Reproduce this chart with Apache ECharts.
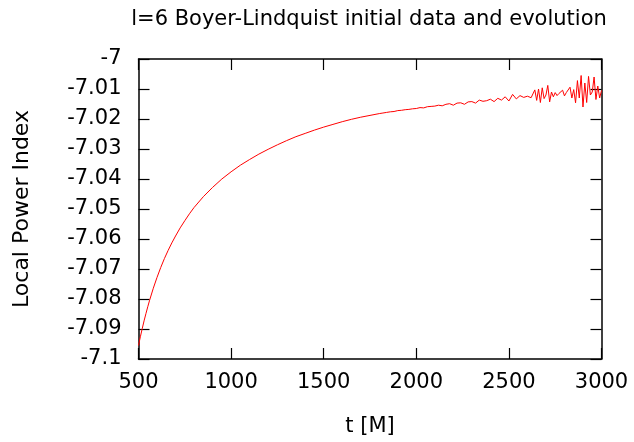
<!DOCTYPE html>
<html>
<head>
<meta charset="utf-8">
<script src="https://cdn.jsdelivr.net/npm/echarts@6/dist/echarts.min.js"></script>
<style>
html,body{margin:0;padding:0;background:#fff;}
#chart{width:634px;height:442px;}
</style>
</head>
<body>
<div id="chart"></div>
<script>
// Time values t [M]
const tSmooth = [500,510,520,530,540,550,560,580,600,620,640,660,680,700,725,750,775,800,850,900,950,1000,1050,1100,1150,1200,1250,1300,1350,1400,1450,1500,1550,1600,1650,1700,1750,1800];
const vSmooth = [-7.0955,-7.0926,-7.0899,-7.0873,-7.0849,-7.0826,-7.0804,-7.0764,-7.0728,-7.0695,-7.0665,-7.0638,-7.0613,-7.0590,-7.0563,-7.0539,-7.0516,-7.0495,-7.0459,-7.0428,-7.0400,-7.0376,-7.0354,-7.0335,-7.0317,-7.0301,-7.0286,-7.0272,-7.0259,-7.0248,-7.0237,-7.0227,-7.0218,-7.0209,-7.0201,-7.0194,-7.0188,-7.0182];

const tMid = [1820,1840,1860,1880,1900,1920,1940,1960,1980,2000,2020,2040,2060,2080,2100,2120,2140,2160,2180,2200,2220,2240,2260,2280,2300,2320,2340,2360,2380,2400,2420,2440,2460,2480,2500,2520,2540,2560,2580,2600];
const vMid = [-7.0180,-7.0178,-7.0176,-7.0175,-7.0172,-7.0171,-7.0169,-7.0168,-7.0166,-7.0165,-7.0162,-7.0163,-7.0159,-7.0158,-7.0157,-7.0154,-7.0156,-7.0151,-7.0149,-7.0154,-7.0147,-7.0146,-7.0151,-7.0143,-7.0142,-7.0147,-7.0137,-7.0141,-7.0139,-7.0134,-7.0142,-7.0131,-7.0137,-7.0126,-7.0140,-7.0118,-7.0133,-7.0122,-7.0128,-7.0124];

const tLate = [2610,2620,2630,2640,2650,2660,2670,2680,2690,2700,2710,2720,2730,2740,2750,2760,2770,2780,2790,2800,2810,2820,2830,2840,2850,2860,2870,2880,2890,2900,2910,2920,2930,2940,2950,2960,2970,2980,2990,3000];
const vLate = [-7.0125,-7.0129,-7.0127,-7.0103,-7.0138,-7.0100,-7.0145,-7.0096,-7.0132,-7.0120,-7.0088,-7.0143,-7.0110,-7.0126,-7.0112,-7.0122,-7.0115,-7.0119,-7.0104,-7.0123,-7.0112,-7.0118,-7.0094,-7.0130,-7.0102,-7.0146,-7.0072,-7.0130,-7.0055,-7.0160,-7.0080,-7.0145,-7.0058,-7.0120,-7.0110,-7.0060,-7.0135,-7.0090,-7.0130,-7.0105];

const xTicks = [500,1000,1500,2000,2500,3000];
const yMin = -7.1, yMax = -7.0, yStep = 0.01;

const times = tSmooth.concat(tMid, tLate);
const vals = vSmooth.concat(vMid, vLate);
const data = times.map((t, i) => [t, vals[i]]);

const FONT = '"DejaVu Sans", sans-serif';
const chart = echarts.init(document.getElementById('chart'), null, {renderer: 'canvas'});
const axisLine = {show: true, lineStyle: {color: '#000', width: 1.5}};
const tick = {show: true, inside: true, length: 11, lineStyle: {color: '#000', width: 1.2}};
chart.setOption({
  animation: false,
  graphic: [{
    type: 'text', x: 369, y: 20,
    style: {text: 'l=6 Boyer-Lindquist initial data and evolution', fill: '#000',
      font: '21px "DejaVu Sans", sans-serif', textAlign: 'center', textVerticalAlign: 'middle'}
  }],
  grid: {left: 138.5, right: 32.5, top: 59, bottom: 80.5, containLabel: false},
  xAxis: [{
    type: 'value', min: xTicks[0], max: xTicks[xTicks.length - 1], interval: 500,
    axisLine: axisLine, axisTick: tick, splitLine: {show: false},
    axisLabel: {color: '#000', fontFamily: FONT, fontSize: 21, margin: 13,
      formatter: v => String(v)},
    name: 't [M]', nameLocation: 'middle', nameGap: 57,
    nameTextStyle: {color: '#000', fontFamily: FONT, fontSize: 21}
  }, {
    type: 'value', position: 'top', min: xTicks[0], max: xTicks[xTicks.length - 1], interval: 500,
    axisLine: axisLine, axisTick: tick, axisLabel: {show: false}, splitLine: {show: false}
  }],
  yAxis: [{
    type: 'value', min: yMin, max: yMax, interval: yStep,
    axisLine: axisLine, axisTick: tick, splitLine: {show: false},
    axisLabel: {color: '#000', fontFamily: FONT, fontSize: 21, margin: 17,
      formatter: v => String(parseFloat(v.toFixed(2)))},
    name: 'Local Power Index', nameLocation: 'middle', nameGap: 105,
    nameTextStyle: {color: '#000', fontFamily: FONT, fontSize: 22}
  }, {
    type: 'value', position: 'right', min: yMin, max: yMax, interval: yStep,
    axisLine: axisLine, axisTick: tick, axisLabel: {show: false}, splitLine: {show: false}
  }],
  series: [{
    type: 'line', data: data, showSymbol: false, symbol: 'none',
    lineStyle: {color: '#ff0000', width: 1}, xAxisIndex: 0, yAxisIndex: 0
  }]
});
</script>
</body>
</html>
